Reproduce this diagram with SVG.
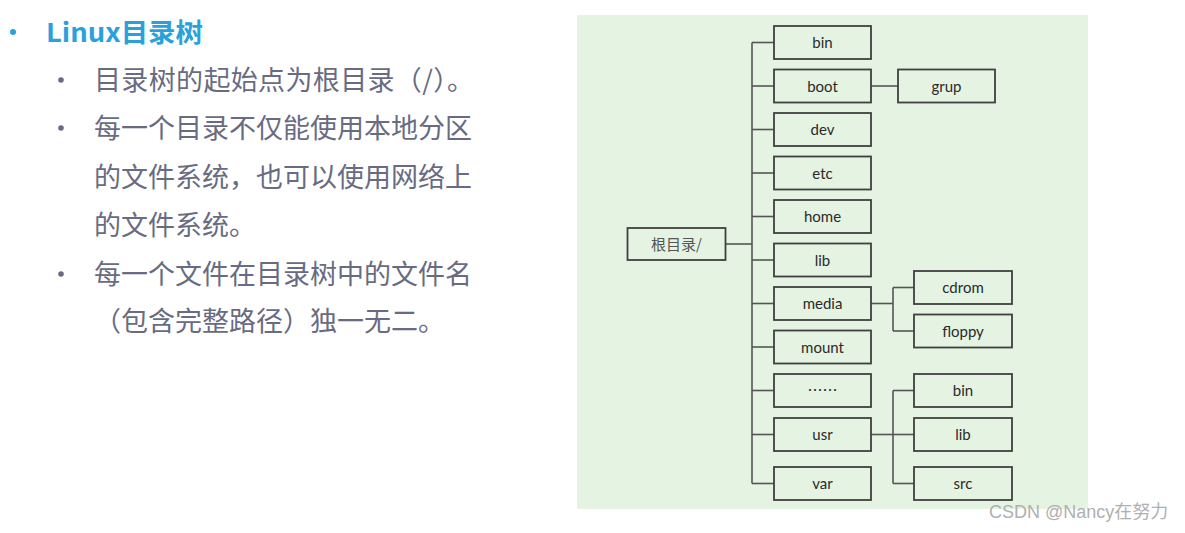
<svg xmlns="http://www.w3.org/2000/svg" width="1185" height="533" viewBox="0 0 1185 533">
<style>
.title{font-family:"Noto Sans CJK SC","Noto Sans",sans-serif;font-weight:bold;font-size:26px;fill:#2aa1dc}
.body{font-family:"Noto Sans CJK SC","Noto Sans",sans-serif;font-size:27px;fill:#686b82}
.box rect{fill:#e5f3e2;stroke:#404040;stroke-width:1.8}
.box text{font-family:Lato,"Noto Sans","Noto Sans CJK SC",sans-serif;font-size:15px;fill:#2a2a2a;text-anchor:middle}
.conn line{stroke:#555;stroke-width:1.6}
.wm{font-family:"Liberation Sans","Noto Sans CJK SC",sans-serif;font-size:18px;fill:#b0b0b0}
</style>
<rect width="1185" height="533" fill="#ffffff"/>
<g id="text-panel">
<circle cx="13" cy="32" r="3" fill="#2aa1dc"/>
<text class="title" x="46" y="42" textLength="157" lengthAdjust="spacingAndGlyphs">Linux目录树</text>
<circle cx="61" cy="80" r="2.8" fill="#686b82"/>
<circle cx="61" cy="128" r="2.8" fill="#686b82"/>
<circle cx="61" cy="274" r="2.8" fill="#686b82"/>
<text class="body" x="94" y="90" textLength="380">目录树的起始点为根目录（/）。</text>
<text class="body" x="94" y="138">每一个目录不仅能使用本地分区</text>
<text class="body" x="94" y="187">的文件系统，也可以使用网络上</text>
<text class="body" x="94" y="235">的文件系统。</text>
<text class="body" x="94" y="284">每一个文件在目录树中的文件名</text>
<text class="body" x="94" y="331">（包含完整路径）独一无二。</text>
</g>
<rect x="577" y="15" width="511" height="494" fill="#e5f3e2"/>
<g id="connectors" class="conn">
<line x1="726" y1="244" x2="752" y2="244"/>
<line x1="752" y1="42.5" x2="752" y2="483.5"/>
<line x1="752" y1="42.5" x2="774" y2="42.5"/>
<line x1="752" y1="86" x2="774" y2="86"/>
<line x1="752" y1="129.5" x2="774" y2="129.5"/>
<line x1="752" y1="173" x2="774" y2="173"/>
<line x1="752" y1="216.5" x2="774" y2="216.5"/>
<line x1="752" y1="260" x2="774" y2="260"/>
<line x1="752" y1="303.5" x2="774" y2="303.5"/>
<line x1="752" y1="347" x2="774" y2="347"/>
<line x1="752" y1="390.5" x2="774" y2="390.5"/>
<line x1="752" y1="434.5" x2="774" y2="434.5"/>
<line x1="752" y1="483.5" x2="774" y2="483.5"/>
<line x1="871" y1="86" x2="898" y2="86"/>
<line x1="871" y1="303.5" x2="893" y2="303.5"/>
<line x1="893" y1="287.5" x2="893" y2="331"/>
<line x1="893" y1="287.5" x2="914" y2="287.5"/>
<line x1="893" y1="331" x2="914" y2="331"/>
<line x1="871" y1="434.5" x2="893" y2="434.5"/>
<line x1="893" y1="390.5" x2="893" y2="483.5"/>
<line x1="893" y1="390.5" x2="914" y2="390.5"/>
<line x1="893" y1="434.5" x2="914" y2="434.5"/>
<line x1="893" y1="483.5" x2="914" y2="483.5"/>
</g>
<g id="root" class="box"><rect x="627.5" y="228" width="98" height="32"/><text x="676.5" y="249.5" style="font-family:'Noto Sans CJK SC',serif;fill:#555">根目录/</text></g>
<g id="bin" class="box"><rect x="774" y="26" width="97" height="33"/><text x="822.5" y="48">bin</text></g>
<g id="boot" class="box"><rect x="774" y="69.5" width="97" height="33"/><text x="822.5" y="91.5">boot</text></g>
<g id="dev" class="box"><rect x="774" y="113" width="97" height="33"/><text x="822.5" y="135">dev</text></g>
<g id="etc" class="box"><rect x="774" y="156.5" width="97" height="33"/><text x="822.5" y="178.5">etc</text></g>
<g id="home" class="box"><rect x="774" y="200" width="97" height="33"/><text x="822.5" y="222">home</text></g>
<g id="lib" class="box"><rect x="774" y="243.5" width="97" height="33"/><text x="822.5" y="265.5">lib</text></g>
<g id="media" class="box"><rect x="774" y="287" width="97" height="33"/><text x="822.5" y="309">media</text></g>
<g id="mount" class="box"><rect x="774" y="330.5" width="97" height="33"/><text x="822.5" y="352.5">mount</text></g>
<g id="more" class="box"><rect x="774" y="374" width="97" height="33"/><text x="822.5" y="396" style="font-family:'Noto Sans CJK SC',sans-serif">……</text></g>
<g id="usr" class="box"><rect x="774" y="418" width="97" height="33"/><text x="822.5" y="440">usr</text></g>
<g id="var" class="box"><rect x="774" y="467" width="97" height="33"/><text x="822.5" y="489">var</text></g>
<g id="grup" class="box"><rect x="898" y="69.5" width="97" height="33"/><text x="946.5" y="91.5">grup</text></g>
<g id="cdrom" class="box"><rect x="914" y="271" width="98" height="33"/><text x="963" y="293">cdrom</text></g>
<g id="floppy" class="box"><rect x="914" y="314.5" width="98" height="33"/><text x="963" y="336.5">floppy</text></g>
<g id="usr-bin" class="box"><rect x="914" y="374" width="98" height="33"/><text x="963" y="396">bin</text></g>
<g id="usr-lib" class="box"><rect x="914" y="418" width="98" height="33"/><text x="963" y="440">lib</text></g>
<g id="usr-src" class="box"><rect x="914" y="467" width="98" height="33"/><text x="963" y="489">src</text></g>
<text class="wm" x="989" y="518">CSDN @Nancy在努力</text>
</svg>
